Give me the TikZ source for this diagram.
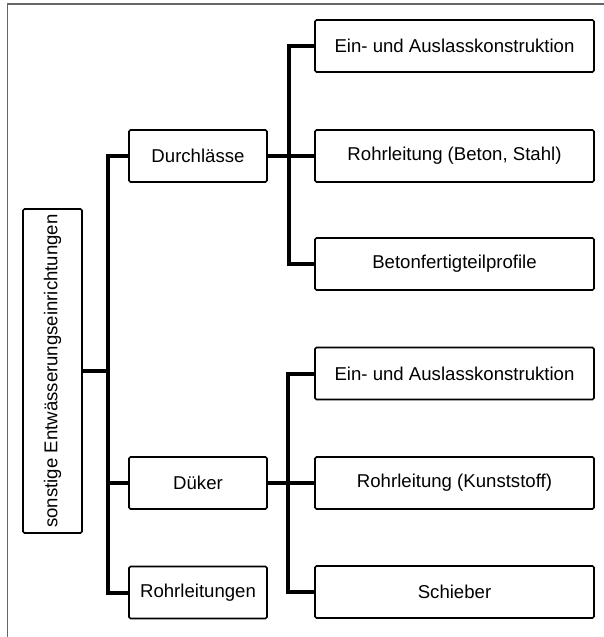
\documentclass[tikz,border=0pt]{standalone}
\usepackage{fontspec}
\setmainfont{Liberation Sans}
\begin{document}
\begin{tikzpicture}[x=1pt,y=-1pt,
  box/.style={draw, line width=1.6pt, rounded corners=1.5pt, fill=white,
    font=\fontsize{18.6}{22}\selectfont, inner sep=0pt},
  midbox/.style={box, minimum width=138pt, minimum height=52pt},
  leafbox/.style={box, minimum width=279pt, minimum height=52pt},
  conn/.style={line width=4pt}]
\useasboundingbox (0,0) rectangle (604,637);
% outer frame
\draw[black!60, line width=1.5pt] (7.5,660) -- (7.5,4) -- (620,4);

% root
\node[box, rotate=90, minimum width=324pt, minimum height=59pt] (root) at (52.5,371)
  {sonstige Entwässerungseinrichtungen};

% second level
\node[midbox] (dl) at (198,156) {Durchlässe};
\node[midbox] (dk) at (198,483) {Düker};
\node[midbox] (rl) at (198,592.5) {Rohrleitungen};

% third level
\node[leafbox] (a1) at (454.5,46) {Ein- und Auslasskonstruktion};
\node[leafbox] (a2) at (454.5,156) {Rohrleitung (Beton, Stahl)};
\node[leafbox] (a3) at (454.5,264) {Betonfertigteilprofile};
\node[leafbox] (b1) at (454.5,373.5) {Ein- und Auslasskonstruktion};
\node[leafbox] (b2) at (454.5,483) {Rohrleitung (Kunststoff)};
\node[leafbox] (b3) at (454.5,592) {Schieber};

% trunk positions
\coordinate (t1) at (108,0);
\coordinate (t2) at (289,0);
\coordinate (t3) at (288,0);

% connectors
\draw[conn] (root.south) -- (root.south -| t1);
\draw[conn] (dl.west) -- (dl.west -| t1) -- (rl.west -| t1) -- (rl.west);
\draw[conn] (dk.west) -- (dk.west -| t1);

\draw[conn] (a1.west) -- (a1.west -| t2) -- (a3.west -| t2) -- (a3.west);
\draw[conn] (dl.east) -- (a2.west);

\draw[conn] (b1.west) -- (b1.west -| t3) -- (b3.west -| t3) -- (b3.west);
\draw[conn] (dk.east) -- (b2.west);
\end{tikzpicture}
\end{document}
